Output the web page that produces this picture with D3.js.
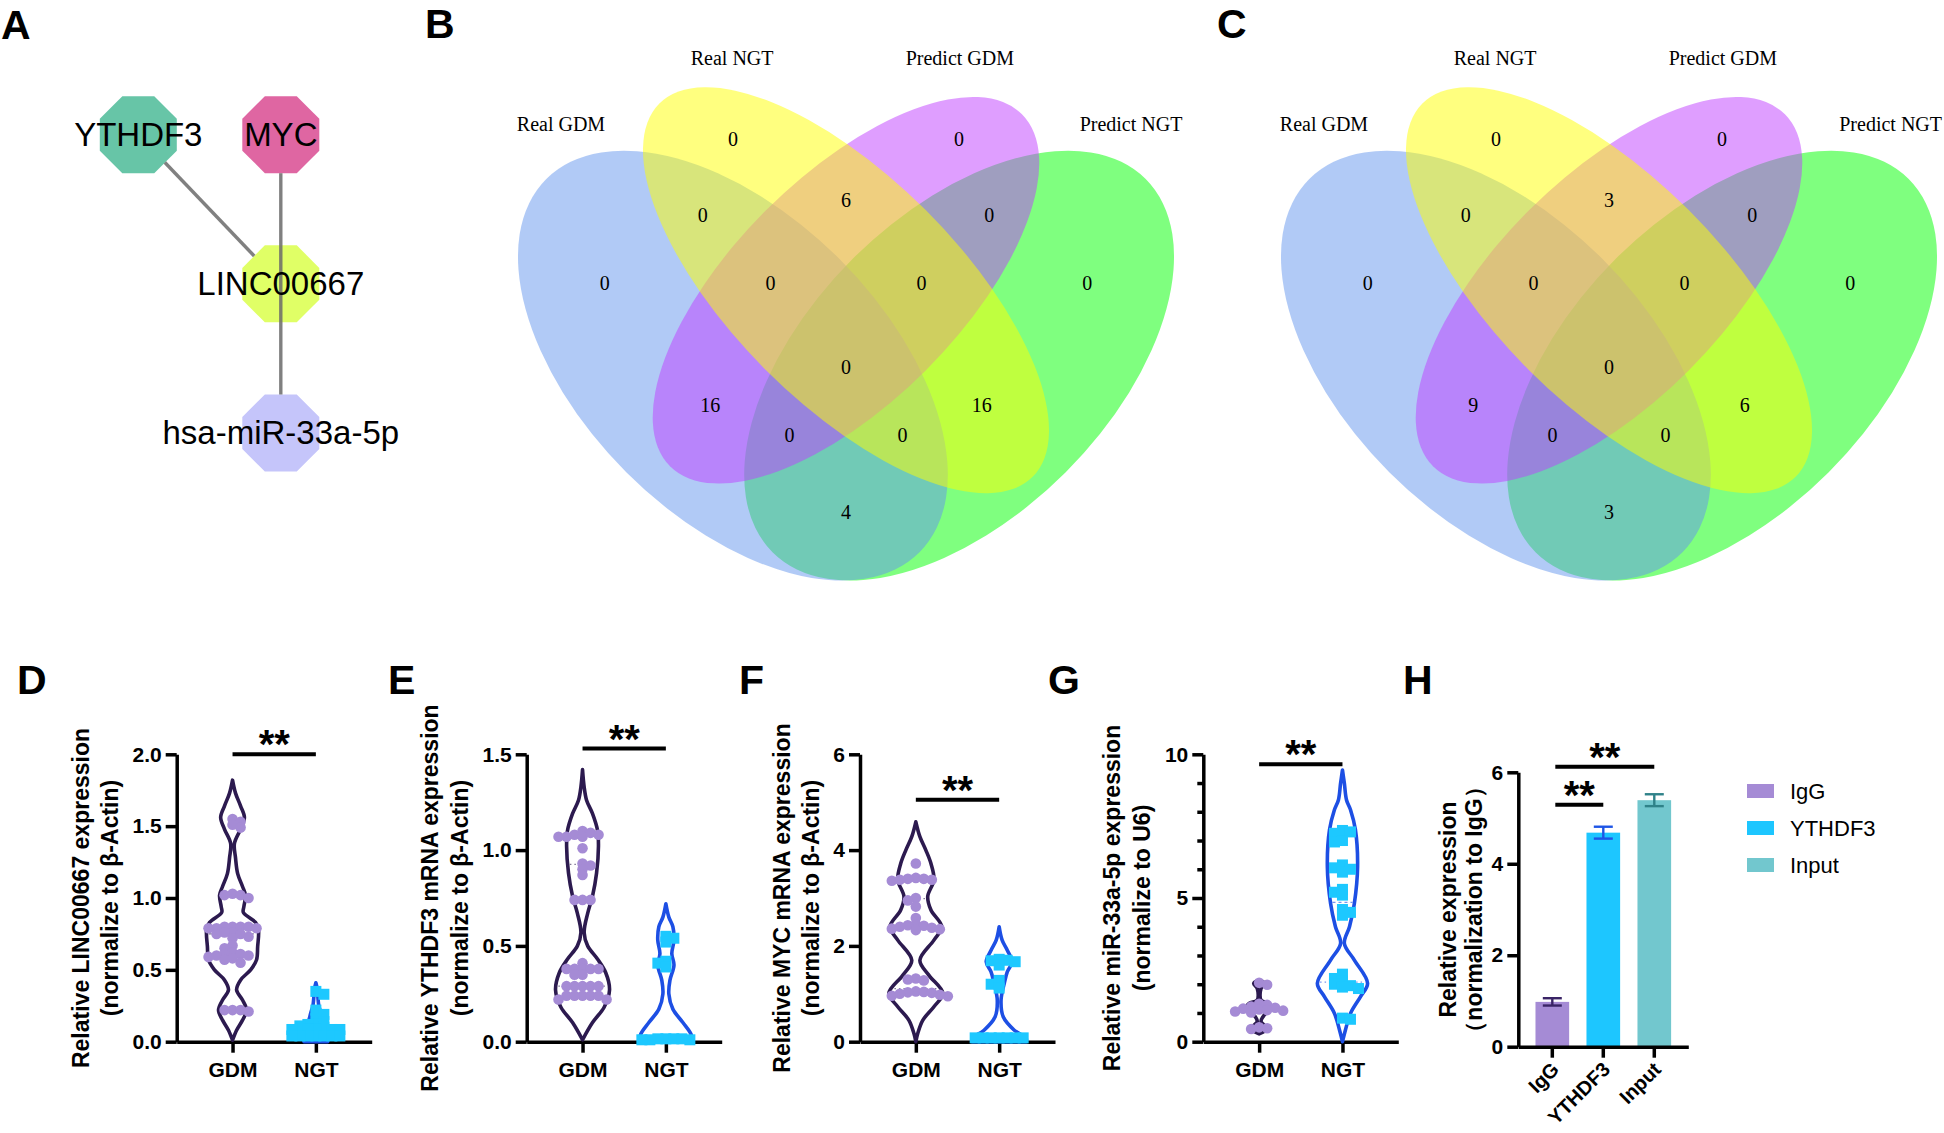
<!DOCTYPE html>
<html><head><meta charset="utf-8">
<script src="https://cdn.jsdelivr.net/npm/d3@7"></script>
<style>
body{margin:0;background:#fff}
svg{display:block}
</style>
</head><body>
<svg id="fig" width="1944" height="1133"></svg>
<script>
// ================= DATA =================
// Panel A – interaction network
const netNodes = ["YTHDF3", "MYC", "LINC00667", "hsa-miR-33a-5p"];
const netNodeCol = [0, 1, 1, 1];
const netNodeRow = [0, 0, 1, 2];
const netNodeColors = ["#67C5A7", "#DF66A2", "#E0FF66", "#C5C5FA"];
const netEdges = [["YTHDF3", "LINC00667"], ["MYC", "hsa-miR-33a-5p"]];

// Panels B, C – four-set Venn diagrams
const vennSetNames = ["Real GDM", "Real NGT", "Predict GDM", "Predict NGT"];
const vennFills = ["#6495ED", "#FFFF00", "#BF3EFF", "#00FF00"];
const vennRegions = ["Real NGT", "Predict GDM", "Real GDM", "Predict NGT",
  "Real GDM&Real NGT", "Real NGT&Predict GDM", "Predict GDM&Predict NGT",
  "Real GDM&Real NGT&Predict GDM", "Real NGT&Predict GDM&Predict NGT", "All",
  "Real GDM&Predict GDM", "Real NGT&Predict NGT",
  "Real GDM&Predict GDM&Predict NGT", "Real GDM&Real NGT&Predict NGT", "Real GDM&Predict NGT"];
const vennCountsB = [0, 0, 0, 0, 0, 6, 0, 0, 0, 0, 16, 16, 0, 0, 4];
const vennCountsC = [0, 0, 0, 0, 0, 3, 0, 0, 0, 0, 9, 6, 0, 0, 3];

// Panels D–G – violin plots
const groups = ["GDM", "NGT"];
const dGDM = [1.55, 1.53, 1.51, 1.49, 1.03, 1.02, 1.02, 1.00, 0.80, 0.80, 0.80, 0.80, 0.79, 0.79, 0.79,
  0.76, 0.76, 0.75, 0.75, 0.73, 0.72, 0.67, 0.65, 0.62, 0.61, 0.61, 0.60, 0.60, 0.59, 0.58, 0.57, 0.55,
  0.22, 0.22, 0.22, 0.21];
const dNGT = [0.35, 0.33, 0.22, 0.19, 0.16, 0.14, 0.12, 0.12, 0.11, 0.10, 0.085, 0.085, 0.085, 0.085, 0.085,
  0.04, 0.04, 0.04, 0.04, 0.04, 0.04, 0.04];
const eGDM = [1.10, 1.09, 1.08, 1.08, 1.07, 1.07, 1.07, 1.01, 0.93, 0.92, 0.90, 0.87, 0.74, 0.74, 0.74,
  0.41, 0.38, 0.38, 0.38, 0.38, 0.38, 0.35, 0.35, 0.29, 0.29, 0.29, 0.29, 0.29, 0.24, 0.24, 0.24, 0.24,
  0.24, 0.22, 0.22];
const eNGT = [0.55, 0.54, 0.52, 0.42, 0.41, 0.39, 0.015, 0.015, 0.015, 0.015, 0.01, 0.01, 0.01];
const fGDM = [3.72, 3.42, 3.40, 3.40, 3.38, 3.38, 3.36, 3.00, 2.95, 2.82, 2.58, 2.45, 2.43, 2.42, 2.40,
  2.38, 2.36, 2.35, 2.33, 1.32, 1.30, 1.28, 1.05, 1.04, 1.03, 1.02, 1.00, 0.98, 0.96, 0.95];
const fNGT = [1.72, 1.70, 1.69, 1.67, 1.60, 1.28, 1.20, 1.12, 0.08, 0.08, 0.08, 0.08, 0.08, 0.08, 0.08];
const gGDM = [2.05, 1.98, 1.32, 1.28, 1.22, 1.18, 1.15, 1.12, 1.10, 1.08, 1.05, 1.02, 0.50, 0.47, 0.44];
const gNGT = [7.35, 7.30, 7.25, 7.00, 6.95, 6.15, 6.05, 6.00, 5.90, 5.30, 5.20, 5.10, 4.60, 4.50, 4.40,
  2.35, 2.20, 2.10, 2.00, 1.95, 1.90, 1.85, 0.82, 0.78];

// violin density profiles: [value, relative half-width]
const dGDMProfile = [[1.82,0],[1.73,0.11],[1.64,0.30],[1.56,0.44],[1.48,0.30],[1.38,0.07],[1.28,0.11],[1.17,0.19],
  [1.08,0.37],[1.02,0.48],[0.94,0.42],[0.90,0.40],[0.83,0.85],[0.78,0.96],[0.66,0.93],[0.57,0.89],[0.50,0.67],
  [0.43,0.30],[0.36,0.15],[0.29,0.37],[0.22,0.52],[0.15,0.37],[0.08,0.15],[0.01,0]];
const dNGTProfile = [[0.41,0],[0.36,0.06],[0.30,0.08],[0.25,0.11],[0.20,0.19],[0.15,0.26],[0.10,0.37],[0.05,0.44],[0,0.44]];
const eGDMProfile = [[1.42,0],[1.33,0.06],[1.26,0.15],[1.19,0.37],[1.10,0.56],[1.02,0.59],[0.88,0.52],[0.76,0.37],
  [0.67,0.19],[0.57,0.06],[0.50,0.19],[0.43,0.56],[0.36,0.86],[0.27,1.0],[0.18,0.80],[0.10,0.37],[0.01,0]];
const eNGTProfile = [[0.72,0],[0.65,0.11],[0.60,0.26],[0.53,0.30],[0.46,0.22],[0.40,0.30],[0.32,0.15],[0.25,0.11],
  [0.17,0.26],[0.10,0.63],[0.04,0.93],[0,1.0]];
const fGDMProfile = [[4.59,0],[4.28,0.15],[4.0,0.37],[3.72,0.56],[3.38,0.67],[3.03,0.44],[2.75,0.56],[2.40,0.96],
  [2.12,0.67],[1.70,0.15],[1.39,0.48],[1.01,1.0],[0.73,0.67],[0.45,0.26],[0.17,0.07],[0,0]];
const fNGTProfile = [[2.40,0],[2.12,0.11],[1.91,0.30],[1.67,0.48],[1.46,0.30],[1.22,0.19],[0.87,0.07],[0.52,0.15],
  [0.24,0.56],[0.07,1.0],[0,1.0]];
const gGDMProfile = [[2.15,0],[2.03,0.2],[1.85,0.07],[1.45,0.07],[1.33,0.37],[1.16,0.48],[0.93,0.19],[0.70,0.07],
  [0.46,0.30],[0.27,0]];
const gNGTProfile = [[9.45,0],[8.99,0.07],[8.41,0.15],[8.06,0.30],[7.37,0.48],[6.09,0.56],[4.81,0.44],[4.0,0.26],
  [3.42,0.07],[2.84,0.44],[2.03,0.93],[1.57,0.67],[0.99,0.30],[0.41,0.11],[0,0]];

// axis tick values
const dTicks = [0, 0.5, 1.0, 1.5, 2.0];
const eTicks = [0, 0.5, 1.0, 1.5];
const fTicks = [0, 2, 4, 6];
const gTicks = [0, 1, 2, 3, 4, 5, 6, 7, 8, 9, 10];
const gLabelledTicks = [0, 5, 10];
const hTicks = [0, 2, 4, 6];

// Panel H – RIP bar chart
const hCategories = ["IgG", "YTHDF3", "Input"];
const hValues = [0.98, 4.68, 5.39];
const hErrors = [0.08, 0.13, 0.13];
const hSig = [["IgG", "YTHDF3", 5.29], ["IgG", "Input", 6.12]];

// ================= STYLE / LAYOUT =================
const SANS = "'Liberation Sans', Arial, Helvetica, sans-serif";
const SERIF = "'Liberation Serif', 'Times New Roman', serif";
const GDM_POINT = "#A58BD5", GDM_LINE = "#2C1A4F";
const NGT_POINT = "#1DC8FF", NGT_LINE = "#1D4FE4";
const hColors = ["#A58BD5", "#1DC6FF", "#72C7CE"];
const hErrColors = ["#3A2466", "#1E55E6", "#2F8289"];
const AXW = 3.5;

const svg = d3.select("#fig");
svg.append("rect").attr("width", 1944).attr("height", 1133).attr("fill", "#fff");

// panel letters
[["A", 1, 39], ["B", 425, 38], ["C", 1217, 38], ["D", 17, 694], ["E", 388, 694],
 ["F", 739, 694], ["G", 1048, 694], ["H", 1403, 694]].forEach(([t, x, y]) => {
  svg.append("text").attr("x", x).attr("y", y).text(t)
    .attr("font-family", SANS).attr("font-weight", "bold").attr("font-size", 41).attr("fill", "#000");
});

// ================= PANEL A =================
(function () {
  const g = svg.append("g");
  const colX = d3.scaleLinear().domain([0, 1]).range([138.3, 280.8]);
  const rowY = d3.scaleLinear().domain([0, 2]).range([134.7, 433]);
  const R_IN = 38.5;
  const pos = {};
  netNodes.forEach((n, i) => pos[n] = { x: colX(netNodeCol[i]), y: rowY(netNodeRow[i]) });
  const octPath = (cx, cy) => {
    const R = R_IN / Math.cos(Math.PI / 8);
    const p = d3.range(8).map(k => { const a = Math.PI / 8 + k * Math.PI / 4; return [cx + R * Math.cos(a), cy + R * Math.sin(a)]; });
    return "M" + p.map(q => q.join(",")).join("L") + "Z";
  };
  const bd = th => { let m = 0; for (let k = 0; k < 8; k++) m = Math.max(m, Math.cos(th - k * Math.PI / 4)); return R_IN / m; };
  netNodes.forEach((n, i) => {
    g.append("path").attr("d", octPath(pos[n].x, pos[n].y)).attr("fill", netNodeColors[i]);
  });
  netEdges.forEach(([s, t]) => {
    const a = pos[s], b = pos[t];
    const th = Math.atan2(b.y - a.y, b.x - a.x);
    const ds = bd(th), dt = bd(th + Math.PI);
    g.append("line")
      .attr("x1", a.x + ds * Math.cos(th)).attr("y1", a.y + ds * Math.sin(th))
      .attr("x2", b.x - dt * Math.cos(th)).attr("y2", b.y - dt * Math.sin(th))
      .attr("stroke", "#6A6A6A").attr("stroke-opacity", 0.85).attr("stroke-width", 3.4);
  });
  netNodes.forEach(n => {
    g.append("text").attr("x", pos[n].x).attr("y", pos[n].y + 11).text(n)
      .attr("text-anchor", "middle").attr("font-family", SANS).attr("font-size", 33).attr("fill", "#000");
  });
})();

// ================= PANELS B, C =================
function venn(cx, counts) {
  const s = 754, Y0 = 720;
  const ux = d3.scaleLinear().domain([0, 1]).range([cx - s / 2, cx + s / 2]);
  const uy = d3.scaleLinear().domain([0, 1]).range([Y0, Y0 - s]);
  const ellipses = [
    { cx: 0.35, cy: 0.47, a: 0.35, b: 0.20, rot: 135 },
    { cx: 0.50, cy: 0.57, a: 0.35, b: 0.15, rot: 135 },
    { cx: 0.50, cy: 0.57, a: 0.33, b: 0.15, rot: 45 },
    { cx: 0.65, cy: 0.47, a: 0.35, b: 0.20, rot: 45 }];
  const drawOrder = [3, 0, 2, 1];
  const regionPos = [[0.35, 0.77], [0.65, 0.77], [0.18, 0.58], [0.82, 0.58], [0.31, 0.67], [0.50, 0.69], [0.69, 0.67],
    [0.40, 0.58], [0.60, 0.58], [0.50, 0.468], [0.32, 0.418], [0.68, 0.418], [0.425, 0.378], [0.575, 0.378], [0.50, 0.276]];
  const labelPos = [[0.122, 0.79], [0.349, 0.878], [0.651, 0.878], [0.878, 0.79]];
  const g = svg.append("g");
  drawOrder.forEach(i => {
    const e = ellipses[i];
    g.append("ellipse").attr("cx", 0).attr("cy", 0)
      .attr("rx", ux(e.a) - ux(0)).attr("ry", ux(e.b) - ux(0))
      .attr("transform", `translate(${ux(e.cx)},${uy(e.cy)}) rotate(${-e.rot})`)
      .attr("fill", vennFills[i]).attr("fill-opacity", 0.5);
  });
  vennRegions.forEach((r, i) => {
    g.append("text").attr("x", ux(regionPos[i][0])).attr("y", uy(regionPos[i][1]) + 7)
      .text(counts[i]).attr("text-anchor", "middle").attr("font-family", SERIF).attr("font-size", 20).attr("fill", "#000");
  });
  vennSetNames.forEach((n, i) => {
    const t = g.append("text").attr("x", ux(labelPos[i][0])).attr("y", uy(labelPos[i][1]) + 7)
      .text(n).attr("text-anchor", "middle").attr("font-family", SERIF).attr("font-size", 20).attr("fill", "#000");
    const bb = t.node().getBBox();
    if (bb.x + bb.width > 1942) t.attr("x", ux(labelPos[i][0]) - (bb.x + bb.width - 1942));
  });
}
venn(846, vennCountsB);
venn(1609, vennCountsC);

// ================= PANELS D–G =================
const Y_BOT = 1041.7, Y_TOP = 754.3, AX_LEN = 195, VW = 27;

function beeswarm(values, y, dMin, dyTol) {
  const pts = values.map((v, i) => ({ v, y: y(v), i })).sort((a, b) => a.y - b.y);
  const placed = [];
  pts.forEach((p, k) => {
    let best = 0, found = false;
    for (let m = 0; m <= 120 && !found; m += 0.5) {
      const cands = m === 0 ? [0] : (k % 2 ? [m, -m] : [-m, m]);
      for (const off of cands) {
        if (placed.every(q => Math.abs(q.y - p.y) >= dyTol || Math.abs(q.off - off) >= dMin)) { best = off; found = true; break; }
      }
    }
    p.off = best; placed.push(p);
  });
  return placed;
}
function profWidth(prof, v) {
  const s = prof.slice().sort((a, b) => a[0] - b[0]);
  if (v <= s[0][0]) return s[0][1];
  for (let i = 1; i < s.length; i++) {
    if (v <= s[i][0]) { const t = (v - s[i - 1][0]) / (s[i][0] - s[i - 1][0]); return s[i - 1][1] + t * (s[i][1] - s[i - 1][1]); }
  }
  return s[s.length - 1][1];
}
function styleAxis(ag, fs) {
  ag.select(".domain").attr("stroke", "#000").attr("stroke-width", AXW);
  ag.selectAll(".tick line").attr("stroke", "#000").attr("stroke-width", AXW);
  ag.selectAll(".tick text").attr("fill", "#000").attr("font-family", SANS).attr("font-weight", "bold").attr("font-size", fs);
  ag.attr("font-family", null).attr("font-size", null);
}
function sigBar(g, x1, x2, yy) {
  g.append("line").attr("x1", x1).attr("x2", x2).attr("y1", yy).attr("y2", yy)
    .attr("stroke", "#000").attr("stroke-width", 4);
  g.append("text").attr("x", (x1 + x2) / 2).attr("y", yy + 4).text("**").attr("text-anchor", "middle")
    .attr("font-family", SANS).attr("font-weight", "bold").attr("font-size", 40).attr("fill", "#000");
}
function yTitle(g, lines, xs, cy, fs) {
  lines.forEach((t, i) => {
    g.append("text").attr("transform", `translate(${xs[i]},${cy}) rotate(-90)`).text(t)
      .attr("text-anchor", "middle").attr("font-family", SANS).attr("font-weight", "bold")
      .attr("font-size", fs).attr("fill", "#000");
  });
}

function violinPanel(cfg) {
  const g = svg.append("g");
  const y = d3.scaleLinear().domain([0, cfg.yMax]).range([Y_BOT, Y_TOP]);
  const x = d3.scalePoint().domain(groups).range([cfg.axisX, cfg.axisX + AX_LEN]).padding(0.67);
  // axes
  const ya = d3.axisLeft(y).tickValues(cfg.ticks).tickSize(11).tickSizeOuter(0).tickPadding(4)
    .tickFormat(cfg.fmt);
  const yg = g.append("g").attr("transform", `translate(${cfg.axisX},0)`).call(ya);
  styleAxis(yg, 21);
  if (cfg.minor) yg.selectAll(".tick line").attr("x2", d => cfg.minor.includes(d) ? -11 : -6);
  const xa = d3.axisBottom(x).tickSize(11).tickSizeOuter(0).tickPadding(9);
  const xg = g.append("g").attr("transform", `translate(0,${Y_BOT})`).call(xa);
  styleAxis(xg, 21);
  yTitle(g, cfg.title, cfg.titleX, 898, 23);
  // violins
  const series = [
    { key: "GDM", data: cfg.gdm, prof: cfg.gdmProf, line: GDM_LINE, pt: GDM_POINT, shape: "circle" },
    { key: "NGT", data: cfg.ngt, prof: cfg.ngtProf, line: NGT_LINE, pt: NGT_POINT, shape: "square" }];
  series.forEach(s => {
    const cx = x(s.key);
    const area = d3.area().y(d => y(d[0])).x0(d => cx - d[1] * VW).x1(d => cx + d[1] * VW)
      .curve(d3.curveCatmullRom.alpha(0.5));
    g.append("path").attr("d", area(s.prof)).attr("fill", "none").attr("stroke", s.line)
      .attr("stroke-width", 3.6).attr("stroke-linejoin", "round");
    const sorted = s.data.slice().sort(d3.ascending);
    [0.25, 0.5, 0.75].forEach(q => {
      const qv = d3.quantile(sorted, q);
      const w = profWidth(s.prof, qv) * VW;
      g.append("line").attr("x1", cx - w + 2).attr("x2", cx + w - 2).attr("y1", y(qv)).attr("y2", y(qv))
        .attr("stroke", s.line).attr("stroke-width", 1.2).attr("stroke-dasharray", q === 0.5 ? "3,3" : "1.5,3")
        .attr("stroke-opacity", 0.6);
    });
    const pts = beeswarm(s.data, y, 8, 5);
    if (s.shape === "circle") {
      g.selectAll(null).data(pts).enter().append("circle")
        .attr("cx", d => cx + d.off).attr("cy", d => d.y).attr("r", 5.3).attr("fill", s.pt);
    } else {
      g.selectAll(null).data(pts).enter().append("rect")
        .attr("x", d => cx + d.off - 5.5).attr("y", d => d.y - 5.5).attr("width", 11).attr("height", 11).attr("fill", s.pt);
    }
  });
  sigBar(g, x("GDM"), x("NGT"), y(cfg.sig));
}

violinPanel({ axisX: 176.7, yMax: 2, ticks: dTicks, fmt: d3.format(".1f"),
  title: ["Relative LINC00667 expression", "(normalize to β-Actin)"], titleX: [89, 118],
  gdm: dGDM, ngt: dNGT, gdmProf: dGDMProfile, ngtProf: dNGTProfile, sig: 2.0 });
violinPanel({ axisX: 526.7, yMax: 1.5, ticks: eTicks, fmt: d3.format(".1f"),
  title: ["Relative YTHDF3 mRNA expression", "(normalize to β-Actin)"], titleX: [438, 468],
  gdm: eGDM, ngt: eNGT, gdmProf: eGDMProfile, ngtProf: eNGTProfile, sig: 1.53 });
violinPanel({ axisX: 860, yMax: 6, ticks: fTicks, fmt: d3.format("d"),
  title: ["Relative MYC mRNA expression", "(normalize to β-Actin)"], titleX: [790, 819],
  gdm: fGDM, ngt: fNGT, gdmProf: fGDMProfile, ngtProf: fNGTProfile, sig: 5.05 });
violinPanel({ axisX: 1203.3, yMax: 10, ticks: gTicks, fmt: d => gLabelledTicks.includes(d) ? d : "",
  minor: gLabelledTicks,
  title: ["Relative miR-33a-5p expression", "(normalize to U6)"], titleX: [1120, 1150],
  gdm: gGDM, ngt: gNGT, gdmProf: gGDMProfile, ngtProf: gNGTProfile, sig: 9.65 });

// ================= PANEL H =================
(function () {
  const g = svg.append("g");
  const axisX = 1518.3, yB = 1046.7, yT = 772.3;
  const y = d3.scaleLinear().domain([0, 6]).range([yB, yT]);
  const x = d3.scaleBand().domain(hCategories).range([axisX, axisX + 170]).paddingInner(0.34).paddingOuter(0.337);
  hCategories.forEach((c, i) => {
    g.append("rect").attr("x", x(c)).attr("width", x.bandwidth())
      .attr("y", y(hValues[i])).attr("height", y(0) - y(hValues[i])).attr("fill", hColors[i]);
  });
  hCategories.forEach((c, i) => {
    const cx = x(c) + x.bandwidth() / 2, hi = y(hValues[i] + hErrors[i]), lo = y(hValues[i] - hErrors[i]);
    const st = { stroke: hErrColors[i], "stroke-width": 2.4 };
    const ln = (x1, y1, x2, y2) => { const l = g.append("line").attr("x1", x1).attr("y1", y1).attr("x2", x2).attr("y2", y2); Object.entries(st).forEach(([k, v]) => l.attr(k, v)); };
    ln(cx, hi, cx, lo); ln(cx - 9.5, hi, cx + 9.5, hi); ln(cx - 9.5, lo, cx + 9.5, lo);
  });
  const ya = d3.axisLeft(y).tickValues(hTicks).tickSize(11).tickSizeOuter(0).tickPadding(4).tickFormat(d3.format("d"));
  const yg = g.append("g").attr("transform", `translate(${axisX},0)`).call(ya);
  styleAxis(yg, 21);
  const xa = d3.axisBottom(x).tickSize(11).tickSizeOuter(0).tickFormat("");
  const xg = g.append("g").attr("transform", `translate(0,${yB})`).call(xa);
  styleAxis(xg, 20);
  hCategories.forEach(c => {
    const cx = x(c) + x.bandwidth() / 2;
    g.append("text").attr("transform", `translate(${cx + 8},${yB + 24}) rotate(-45)`).text(c)
      .attr("text-anchor", "end").attr("font-family", SANS).attr("font-weight", "bold").attr("font-size", 20).attr("fill", "#000");
  });
  yTitle(g, ["Relative expression", "（normalization to IgG）"], [1456, 1482], (yB + yT) / 2, 23);
  hSig.forEach(([a, b, v]) => sigBar(g, x(a) + x.bandwidth() / 2 + 3, x(b) + x.bandwidth() / 2, y(v)));
  // legend
  hCategories.forEach((c, i) => {
    const cy = 791 + i * 37;
    g.append("rect").attr("x", 1747).attr("y", cy - 7).attr("width", 27).attr("height", 14).attr("fill", hColors[i]);
    g.append("text").attr("x", 1790).attr("y", cy + 8).text(c).attr("font-family", SANS).attr("font-size", 22).attr("fill", "#000");
  });
})();
</script>
</body></html>
